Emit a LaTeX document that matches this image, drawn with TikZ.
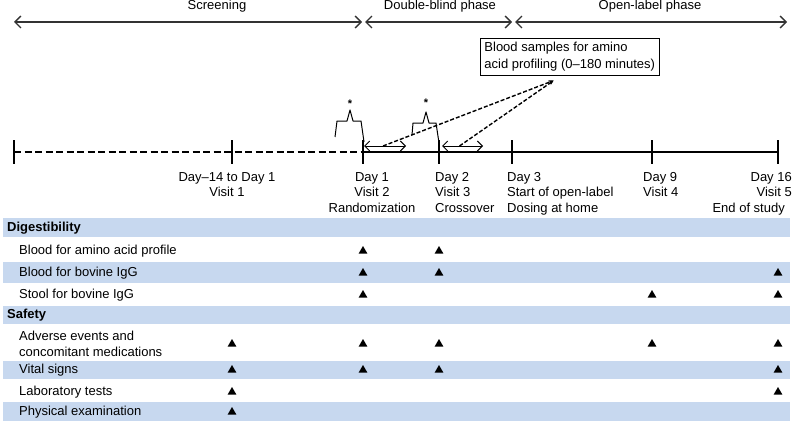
\documentclass[tikz,border=0pt]{standalone}
\usepackage{fontspec}
\setmainfont{Liberation Sans}
\usetikzlibrary{positioning,arrows.meta,shapes.geometric}
\definecolor{rowblue}{RGB}{199,216,239}

\begin{document}
\begin{tikzpicture}[
    x=1pt, y=-1pt,
    >={Straight Barb[length=6pt,width=12pt]},
    every node/.style={font=\fontsize{13}{15.5}\selectfont, inner sep=0pt},
    phase/.style={<->, line width=1.3pt, black!80},
    tick/.style={line width=1.8pt},
    visit/.style={anchor=north, align=center},
    band/.style={fill=rowblue},
    rowtext/.style={anchor=west, align=left},
    tri/.style={regular polygon, regular polygon sides=3, fill=black, minimum size=10pt, inner sep=0pt},
    brace/.style={line width=1pt, line join=round},
    star/.style={font=\fontsize{11}{11}\selectfont\bfseries},
    sample/.style={<->, line width=1pt, >={Straight Barb[length=5pt,width=10pt]}},
    link/.style={dash pattern=on 4pt off 2pt, line width=1.4pt, -{Stealth[length=5pt,width=4pt]}}
]
\useasboundingbox (0,0) rectangle (794,425);

% phases
\coordinate (A0) at (14,22);
\coordinate (A1) at (362,22);
\coordinate (A2) at (365,22);
\coordinate (A3) at (512,22);
\coordinate (A4) at (515,22);
\coordinate (A5) at (787,22);
\draw[phase] (A0) -- (A1);
\draw[phase] (A2) -- (A3);
\draw[phase] (A4) -- (A5);
\node[anchor=base] (Lscr) at (217,10) {Screening};
\node[anchor=base] (Ldb) at (440,10) {Double-blind phase};
\node[anchor=base] (Lol) at (650,10) {Open-label phase};

% timeline
\foreach \n/\x in {0/14,1/232,2/363,3/439,4/512,5/652,6/778}
    \coordinate (t\n) at (\x,152);
\draw[line width=1.8pt, dash pattern=on 7pt off 3.5pt] (t0) -- (t2);
\draw[line width=1.8pt] (t2) -- (t6);
\foreach \n in {0,...,6}
    \draw[tick] ([yshift=12pt]t\n) -- ([yshift=-12pt]t\n);

\node[visit, below=20pt of t1, xshift=-5pt] (V1) {Day--14 to Day 1\\Visit 1};
\node[visit, below=20pt of t2, xshift=9pt] (V2) {Day 1\\Visit 2\\Randomization};
\node[visit, anchor=north west, align=left] (V3) at (435,172) {Day 2\\Visit 3\\Crossover};
\node[visit, anchor=north west, align=left] (V4) at (507,172) {Day 3\\Start of open-label\\Dosing at home};
\node[visit, anchor=north west, align=left] (V5) at (643,172) {Day 9\\Visit 4};
\node[visit, anchor=north east, align=right] (V6) at (792,172) {Day 16\\Visit 5\\End of study\kern7pt};

% sampling windows
\draw[brace] (335,137) -- (337,121) -- (347,121) -- (350,110) -- (353,121) -- (361,121) -- (364,142);
\draw[brace] (412,135) -- (413,123) -- (423,123) -- (426,112) -- (429,123) -- (436,123) -- (439,143);
\node[star] (st1) at (350,104) {*};
\node[star] (st2) at (426,103) {*};
\coordinate (s1a) at (364,146);
\coordinate (s1b) at (406,146);
\coordinate (s2a) at (442,146);
\coordinate (s2b) at (483,146);
\draw[sample] (s1a) -- coordinate (s1m) (s1b);
\draw[sample] (s2a) -- coordinate (s2m) (s2b);

\node[draw, line width=0.9pt, anchor=north west, align=left, inner xsep=4pt, inner ysep=4pt,
      font=\fontsize{13}{16.5}\selectfont] (BS) at (480,38)
      {Blood samples for amino\\acid profiling (0--180 minutes)};
\draw[link] ([xshift=-2pt]s1m) -- ([xshift=-16pt,yshift=-5pt]BS.south);
\draw[link] ([xshift=-3pt]s2m) -- ([xshift=-16pt,yshift=-5pt]BS.south);

% table
\foreach \ya/\yb in {218/237, 262/283, 306/324, 361/379, 402/421}
    \fill[band] (3,\ya) rectangle (790,\yb);

\node[rowtext] (Hdig) at (7,228) {\textbf{Digestibility}};
\node[rowtext] (Ramino) at (19,251) {Blood for amino acid profile};
\node[rowtext] (Rigg) at (19,273) {Blood for bovine IgG};
\node[rowtext] (Rstool) at (19,295) {Stool for bovine IgG};
\node[rowtext] (Hsaf) at (7,315) {\textbf{Safety}};
\node[rowtext] (Rae) at (19,344) {Adverse events and\\concomitant medications};
\node[rowtext] (Rvital) at (19,370) {Vital signs};
\node[rowtext] (Rlab) at (19,392) {Laboratory tests};
\node[rowtext] (Rphys) at (19,412) {Physical examination};

\foreach \x/\y [count=\i] in {363/251, 439/251,
        363/273, 439/273, 778/273,
        363/295, 652/295, 778/295,
        232/344, 363/344, 439/344, 652/344, 778/344,
        232/370, 363/370, 439/370, 778/370,
        232/392, 778/392,
        232/412}
    \node[tri] (m\i) at (\x,\y) {};

\end{tikzpicture}
\end{document}
